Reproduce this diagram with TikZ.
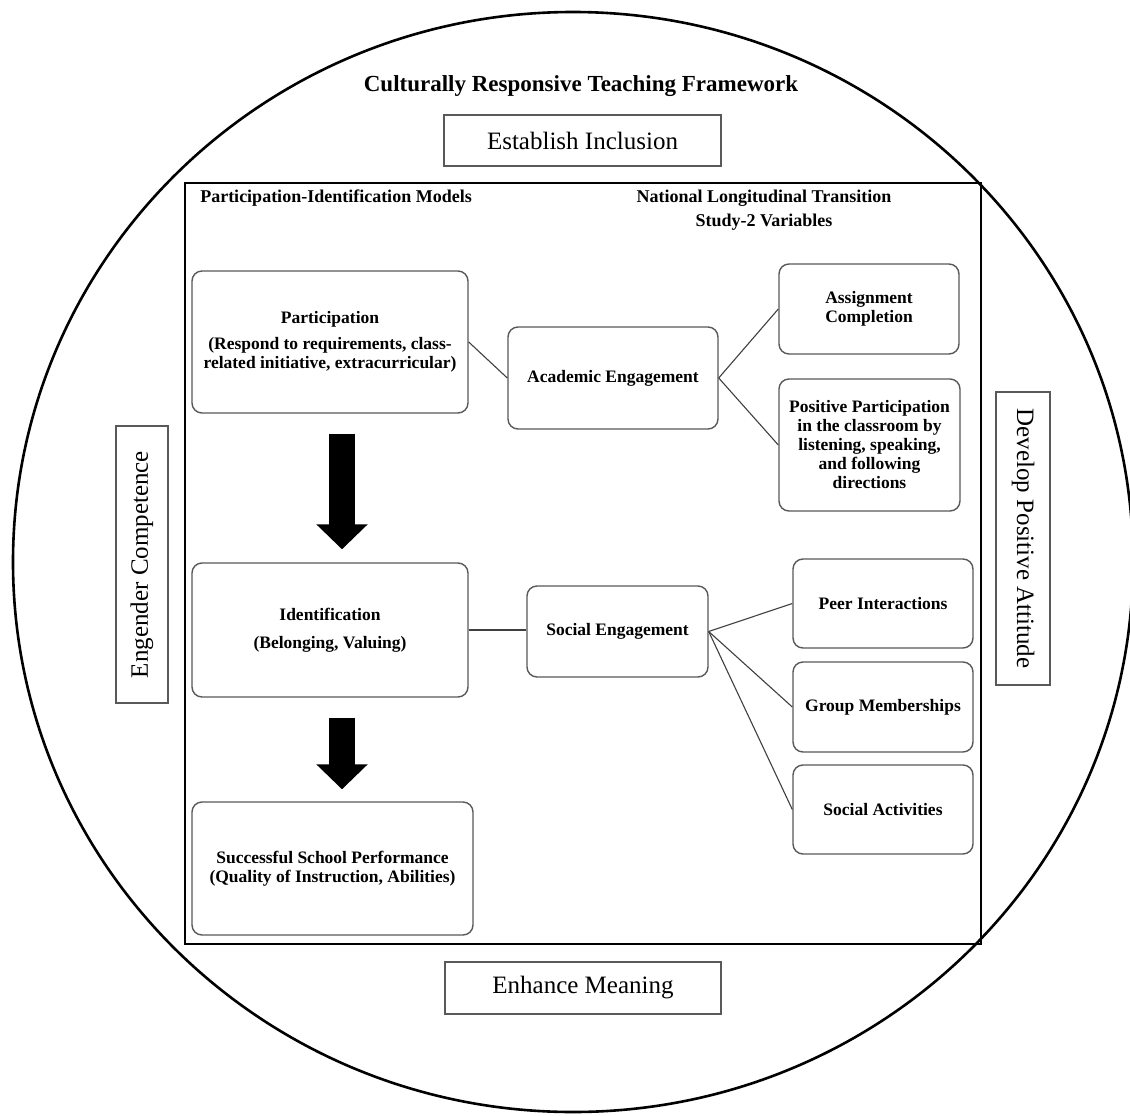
\documentclass[tikz,border=0pt]{standalone}
\usepackage{fontspec}
\setmainfont{Liberation Serif}
\usetikzlibrary{arrows.meta}
\begin{document}
\begin{tikzpicture}[x=1pt,y=-1pt,
  rbox/.style={draw=black!65, line width=1.4pt, rounded corners=10pt, align=center,
    font=\fontsize{17.5}{19}\selectfont\bfseries, inner sep=2pt},
  obox/.style={draw=black!65, line width=1.8pt, font=\fontsize{25}{30}\selectfont, inner sep=0pt},
  hdr/.style={font=\fontsize{18}{24}\selectfont\bfseries, align=center, inner sep=0pt},
  link/.style={draw=black!75, line width=1.1pt},
  bigarrow/.style={draw=black, line width=26pt, -{Triangle[length=25pt,width=50pt]}},
]
\fill[white] (0,0) rectangle (1130,1116);
\useasboundingbox (0,0) rectangle (1130,1116);

% outer circle
\draw[line width=2.6pt] (573,562) ellipse [x radius=560pt, y radius=550pt];

% title
\node[font=\fontsize{23}{27}\selectfont\bfseries, inner sep=0pt] (title) at (581,86) {Culturally Responsive Teaching Framework};

% outer labels
\node[obox, minimum width=277pt, minimum height=51pt] (incl) at (582.5,140.5) {Establish Inclusion};
\node[obox, minimum width=276pt, minimum height=52pt] (mean) at (583,988) {Enhance Meaning};
\node[obox, rotate=90, minimum width=277pt, minimum height=52pt] (comp) at (142,564.5) {Engender Competence};
\node[obox, rotate=-90, minimum width=293pt, minimum height=54pt] (att) at (1023,538.5) {Develop Positive Attitude};

% inner frame
\draw[line width=1.6pt] (185,183) rectangle (981,944);

% headers
\node[hdr] (hpi) at (336,198) {Participation-Identification Models};
\node[hdr] (hnl) at (764,210) {National Longitudinal Transition\\Study-2 Variables};

% left column
\node[rbox, minimum width=276pt, minimum height=142pt] (part) at (330,342)
  {Participation\\[7pt](Respond to requirements, class-\\related initiative, extracurricular)};
\node[rbox, minimum width=276pt, minimum height=134pt] (ident) at (330,630)
  {Identification\\[9pt](Belonging, Valuing)};
\node[rbox, minimum width=281pt, minimum height=133pt] (succ) at (332.5,868.5)
  {Successful School Performance\\(Quality of Instruction, Abilities)};

% middle column
\node[rbox, minimum width=210pt, minimum height=102pt] (acad) at (613,378) {Academic Engagement};
\node[rbox, minimum width=181pt, minimum height=91pt] (social) at (617.5,631.5) {Social Engagement};

% right column
\node[rbox, minimum width=180pt, minimum height=90pt] (assign) at (869,309) {Assignment\\Completion};
\node[rbox, minimum width=181pt, minimum height=132pt] (posit) at (869.5,445)
  {Positive Participation\\in the classroom by\\listening, speaking,\\and following\\directions};
\node[rbox, minimum width=180pt, minimum height=89pt] (peer) at (883,603.5) {Peer Interactions};
\node[rbox, minimum width=180pt, minimum height=90pt] (group) at (883,707) {Group Memberships};
\node[rbox, minimum width=180pt, minimum height=89pt] (socact) at (883,809.5) {Social Activities};

% connectors
\draw[link] (part.east) -- (acad.west);
\draw[link] (acad.east) -- (assign.west);
\draw[link] (acad.east) -- (posit.west);
\draw[link] (ident.east) -- (ident.east -| social.west);
\draw[link] (social.east) -- (peer.west);
\draw[link] (social.east) -- (group.west);
\draw[link] (social.east) -- (socact.west);

% block arrows
\coordinate (ax) at (342,0);
\draw[bigarrow, shorten <=20pt, shorten >=13pt] (part.south -| ax) -- (ident.north -| ax);
\draw[bigarrow, shorten <=20pt, shorten >=12pt] (ident.south -| ax) -- (succ.north -| ax);
\end{tikzpicture}
\end{document}
